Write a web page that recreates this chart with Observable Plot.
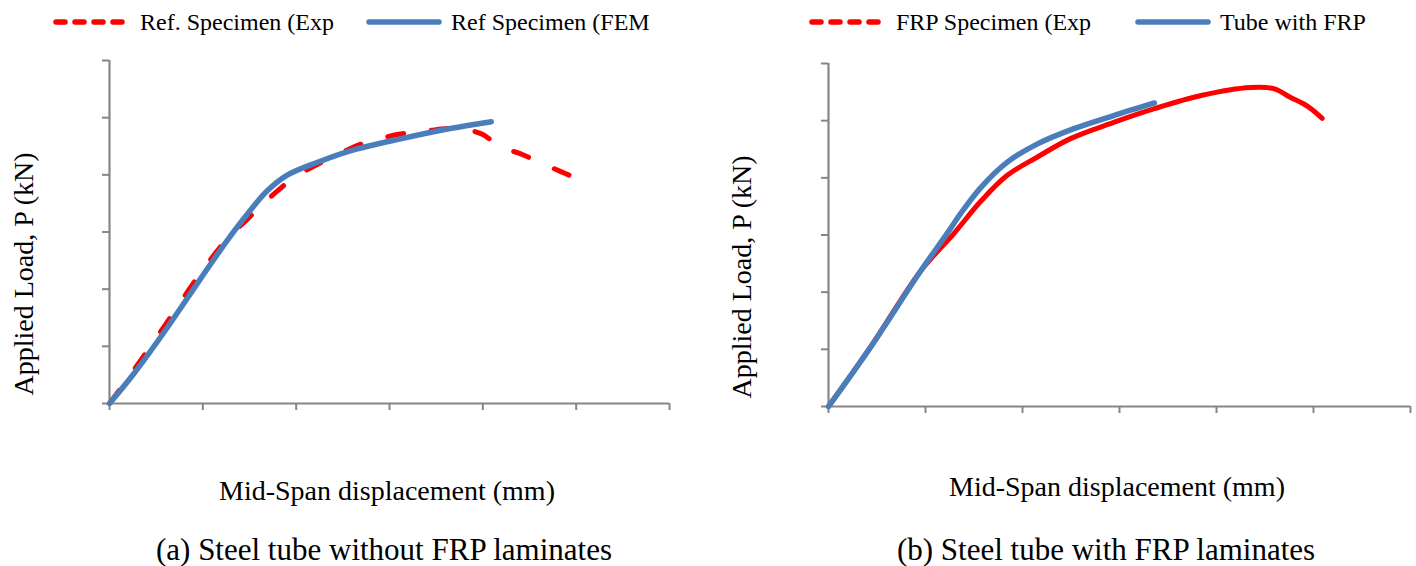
<!DOCTYPE html>
<html>
<head>
<meta charset="utf-8">
<script src="https://cdn.jsdelivr.net/npm/d3@7"></script>
<script src="https://cdn.jsdelivr.net/npm/@observablehq/plot@0.6"></script>
<style>
  html, body { margin: 0; padding: 0; background: #fff; }
  #root { position: relative; width: 1416px; height: 566px; font-family: "Liberation Serif", "Times New Roman", serif; color: #000; overflow: hidden; }
  .abs { position: absolute; white-space: nowrap; }
  .leg { font-size: 24px; line-height: 1; }
  .ylab { font-size: 28px; transform: translate(-50%, -50%) rotate(-90deg); }
  .xlab { font-size: 28px; transform: translate(-50%, -50%); }
  .cap { font-size: 31px; transform: translate(-50%, -50%); }
</style>
</head>
<body>
<div id="root"></div>
<script>
// ---- Data (grid units: one unit = one tick interval; axes carry no numbers) ----
const xTicks = [0, 1, 2, 3, 4, 5, 6];
const yTicks = [0, 1, 2, 3, 4, 5, 6];

// (a) Steel tube without FRP laminates
const refExpX = [0, 0.25, 0.6, 0.95, 1.25, 1.48, 1.65, 1.8, 2.0, 2.2, 2.45, 2.7, 3.1, 3.4, 3.72, 3.98, 4.19, 4.4, 4.62, 4.83, 4.96];
const refExpY = [0, 0.56, 1.38, 2.22, 2.86, 3.23, 3.5, 3.72, 3.98, 4.16, 4.36, 4.54, 4.71, 4.77, 4.81, 4.72, 4.49, 4.37, 4.21, 4.06, 3.97];
const refFemX = [0, 0.26, 0.62, 0.975, 1.26, 1.48, 1.69, 1.9, 2.23, 2.58, 3.12, 3.65, 4.09];
const refFemY = [0, 0.52, 1.33, 2.18, 2.85, 3.32, 3.72, 3.99, 4.22, 4.42, 4.63, 4.81, 4.93];

// (b) Steel tube with FRP laminates
const frpExpX = [0, 0.43, 0.95, 1.29, 1.57, 1.84, 2.15, 2.5, 2.94, 3.36, 3.84, 4.35, 4.59, 4.76, 4.94, 5.09];
const frpExpY = [0, 1.03, 2.37, 3.02, 3.59, 4.04, 4.36, 4.69, 4.97, 5.21, 5.44, 5.58, 5.56, 5.41, 5.25, 5.04];
const frpFemX = [0, 0.43, 0.95, 1.22, 1.36, 1.57, 1.84, 2.15, 2.53, 2.94, 3.36];
const frpFemY = [0, 1.03, 2.37, 3.02, 3.37, 3.83, 4.27, 4.59, 4.86, 5.09, 5.31];

const labels = {
  a: { exp: "Ref. Specimen (Exp", fem: "Ref Specimen (FEM", caption: "(a)  Steel tube without FRP laminates" },
  b: { exp: "FRP Specimen (Exp", fem: "Tube with FRP", caption: "(b) Steel tube with FRP laminates" }
};
const xLabel = "Mid-Span displacement (mm)";
const yLabel = "Applied Load, P (kN)";

const RED = "#ff0000";
const BLUE = "#4a7ebb";
const AXIS = "#868686";

const toRows = (xs, ys) => xs.map((x, i) => ({ x, y: ys[i] }));

function panel({ exp, fem, expDash, width, height, mt, mb, ml, mr }) {
  return Plot.plot({
    width, height,
    marginTop: mt, marginBottom: mb, marginLeft: ml, marginRight: mr,
    x: { domain: [0, 6], axis: null },
    y: { domain: [0, 6], axis: null },
    style: { background: "transparent", overflow: "visible" },
    marks: [
      Plot.axisX({ ticks: xTicks, tickSize: 7, tickFormat: () => "", stroke: AXIS, strokeWidth: 2, label: null, tickPadding: 0 }),
      Plot.axisY({ ticks: yTicks, tickSize: 7, tickFormat: () => "", stroke: AXIS, strokeWidth: 2, label: null, tickPadding: 0 }),
      Plot.ruleY([0], { stroke: AXIS, strokeWidth: 2.2 }),
      Plot.ruleX([0], { stroke: AXIS, strokeWidth: 2.2 }),
      Plot.line(exp, { x: "x", y: "y", stroke: RED, strokeWidth: 5, strokeDasharray: expDash, strokeLinecap: "round", strokeLinejoin: "round", curve: "catmull-rom" }),
      Plot.line(fem, { x: "x", y: "y", stroke: BLUE, strokeWidth: 5.5, strokeLinecap: "round", strokeLinejoin: "round", curve: "catmull-rom" })
    ]
  });
}

const root = document.getElementById("root");

function place(el, left, top) {
  el.style.position = "absolute";
  el.style.left = left + "px";
  el.style.top = top + "px";
  root.appendChild(el);
}

// Panel (a): x axis 109..669, y axis 403..60
const pa = panel({
  exp: toRows(refExpX, refExpY), fem: toRows(refFemX, refFemY), expDash: "16,28",
  width: 700, height: 400, mt: 20, mb: 37, ml: 109, mr: 31
});
place(pa, 0, 40);

// Panel (b): x axis 828..1410, y axis 406..63
const pb = panel({
  exp: toRows(frpExpX, frpExpY), fem: toRows(frpFemX, frpFemY), expDash: null,
  width: 716, height: 400, mt: 23, mb: 34, ml: 128, mr: 6
});
place(pb, 700, 40);

// Legends
function legendItem(left, top, color, dashed, text, sw) {
  const d = document.createElement("div");
  d.className = "abs leg";
  d.style.left = left + "px";
  d.style.top = top + "px";
  d.style.display = "flex";
  d.style.alignItems = "center";
  const w = sw;
  const s = d3.create("svg").attr("width", w + 8).attr("height", 12);
  s.append("line").attr("x1", 4).attr("x2", w + 4).attr("y1", 6).attr("y2", 6)
    .attr("stroke", color).attr("stroke-width", 5.5).attr("stroke-linecap", "round")
    .attr("stroke-dasharray", dashed ? "9,10" : null);
  d.appendChild(s.node());
  const t = document.createElement("span");
  t.textContent = text;
  t.style.marginLeft = "8px";
  d.appendChild(t);
  root.appendChild(d);
}
legendItem(52, 10, RED, true, labels.a.exp, 72);
legendItem(365, 10, BLUE, false, labels.a.fem, 70);
legendItem(808, 10, RED, true, labels.b.exp, 72);
legendItem(1134, 10, BLUE, false, labels.b.fem, 70);

function text(cls, x, y, str) {
  const d = document.createElement("div");
  d.className = "abs " + cls;
  d.style.left = x + "px";
  d.style.top = y + "px";
  d.textContent = str;
  root.appendChild(d);
}
text("ylab", 24, 274, yLabel);
text("ylab", 742, 277, yLabel);
text("xlab", 387, 491, xLabel);
text("xlab", 1117, 487, xLabel);
text("cap", 384, 550, labels.a.caption);
text("cap", 1106, 550, labels.b.caption);
</script>
</body>
</html>
